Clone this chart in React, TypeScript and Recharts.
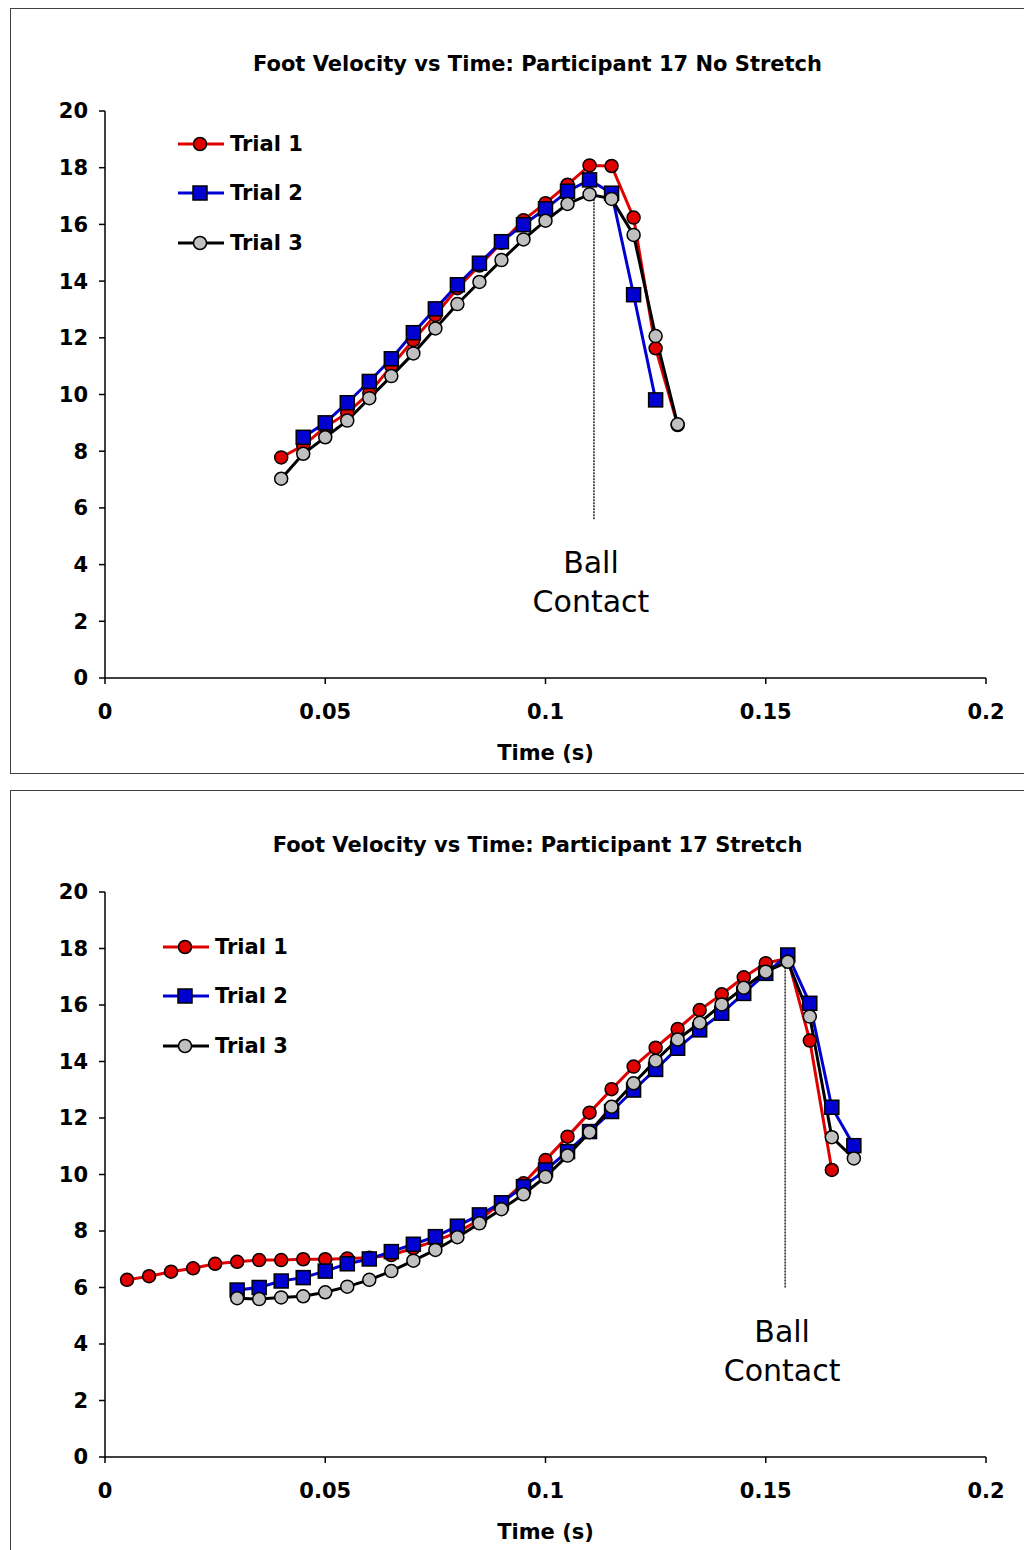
import React from "react";
import { LineChart, Line, XAxis, YAxis, ReferenceLine, Legend } from "recharts";

const FONT = "'DejaVu Sans', Verdana, sans-serif";

const xTicks = [0, 0.05, 0.1, 0.15, 0.2];
const yTicks = [0, 2, 4, 6, 8, 10, 12, 14, 16, 18, 20];
const trialNames = ["Trial 1", "Trial 2", "Trial 3"];

// No stretch
const noStretchTime1 = [0.04, 0.045, 0.05, 0.055, 0.06, 0.065, 0.07, 0.075, 0.08, 0.085, 0.09, 0.095, 0.1, 0.105, 0.11, 0.115, 0.12, 0.125, 0.13];
const noStretchTrial1 = [7.78, 8.2, 8.85, 9.35, 10.05, 11.0, 11.92, 12.8, 13.75, 14.55, 15.35, 16.15, 16.75, 17.4, 18.08, 18.06, 16.24, 11.63, 8.92];
const noStretchTime2 = [0.045, 0.05, 0.055, 0.06, 0.065, 0.07, 0.075, 0.08, 0.085, 0.09, 0.095, 0.1, 0.105, 0.11, 0.115, 0.12, 0.125];
const noStretchTrial2 = [8.49, 9.0, 9.71, 10.46, 11.26, 12.18, 13.02, 13.87, 14.63, 15.39, 15.99, 16.55, 17.17, 17.57, 17.1, 13.52, 9.81];
const noStretchTime3 = [0.04, 0.045, 0.05, 0.055, 0.06, 0.065, 0.07, 0.075, 0.08, 0.085, 0.09, 0.095, 0.1, 0.105, 0.11, 0.115, 0.12, 0.125, 0.13];
const noStretchTrial3 = [7.03, 7.91, 8.49, 9.08, 9.87, 10.65, 11.45, 12.33, 13.19, 13.97, 14.74, 15.47, 16.13, 16.72, 17.06, 16.9, 15.63, 12.06, 8.95];
const noStretchContact = { t: 0.111, from: 5.6, to: 17.1 };

// Stretch
const stretchTime1 = [0.005, 0.01, 0.015, 0.02, 0.025, 0.03, 0.035, 0.04, 0.045, 0.05, 0.055, 0.06, 0.065, 0.07, 0.075, 0.08, 0.085, 0.09, 0.095, 0.1, 0.105, 0.11, 0.115, 0.12, 0.125, 0.13, 0.135, 0.14, 0.145, 0.15, 0.155, 0.16, 0.165];
const stretchTrial1 = [6.27, 6.4, 6.56, 6.68, 6.84, 6.91, 6.97, 6.97, 7.0, 7.0, 7.03, 7.05, 7.15, 7.39, 7.65, 7.95, 8.4, 9.0, 9.69, 10.51, 11.34, 12.19, 13.02, 13.82, 14.49, 15.15, 15.82, 16.38, 16.98, 17.48, 17.65, 14.74, 10.16];
const stretchTime2 = [0.03, 0.035, 0.04, 0.045, 0.05, 0.055, 0.06, 0.065, 0.07, 0.075, 0.08, 0.085, 0.09, 0.095, 0.1, 0.105, 0.11, 0.115, 0.12, 0.125, 0.13, 0.135, 0.14, 0.145, 0.15, 0.155, 0.16, 0.165, 0.17];
const stretchTrial2 = [5.91, 6.0, 6.23, 6.35, 6.58, 6.84, 7.01, 7.27, 7.53, 7.8, 8.17, 8.57, 9.0, 9.57, 10.16, 10.81, 11.52, 12.23, 12.99, 13.72, 14.47, 15.12, 15.71, 16.41, 17.12, 17.77, 16.06, 12.38, 11.02];
const stretchTime3 = [0.03, 0.035, 0.04, 0.045, 0.05, 0.055, 0.06, 0.065, 0.07, 0.075, 0.08, 0.085, 0.09, 0.095, 0.1, 0.105, 0.11, 0.115, 0.12, 0.125, 0.13, 0.135, 0.14, 0.145, 0.15, 0.155, 0.16, 0.165, 0.17];
const stretchTrial3 = [5.62, 5.59, 5.65, 5.69, 5.83, 6.03, 6.27, 6.58, 6.95, 7.33, 7.78, 8.27, 8.77, 9.3, 9.92, 10.67, 11.5, 12.4, 13.23, 14.03, 14.78, 15.37, 16.02, 16.61, 17.18, 17.53, 15.59, 11.32, 10.57];
const stretchContact = { t: 0.1544, from: 6.0, to: 17.5 };

const pair = (ts: number[], vs: number[]) => ts.map((t, i) => ({ t, v: vs[i] }));

const STYLES = [
  { stroke: "#e00000", fill: "#e00000", shape: "circle" },
  { stroke: "#0000d0", fill: "#0000d0", shape: "square" },
  { stroke: "#000000", fill: "#c0c0c0", shape: "circle" },
];

function Marker({ cx, cy, shape, fill }: any) {
  if (cx == null || cy == null) return null;
  if (shape === "square") {
    return <rect x={cx - 7} y={cy - 7} width={14} height={14} fill={fill} stroke="#000" strokeWidth={1.5} />;
  }
  return <circle cx={cx} cy={cy} r={6.5} fill={fill} stroke="#000" strokeWidth={1.5} />;
}

function LegendBox() {
  return (
    <div style={{ fontFamily: FONT, fontWeight: "bold", fontSize: 21 }}>
      {trialNames.map((name, i) => (
        <div key={name} style={{ display: "flex", alignItems: "center", height: 49.5 }}>
          <svg width={52} height={20}>
            <line x1={0} y1={10} x2={46} y2={10} stroke={STYLES[i].stroke} strokeWidth={3} />
            <Marker cx={22} cy={10} shape={STYLES[i].shape} fill={STYLES[i].fill} />
          </svg>
          <span>{name}</span>
        </div>
      ))}
    </div>
  );
}

function ContactLabel({ viewBox }: any) {
  if (!viewBox) return null;
  const cx = viewBox.x + (viewBox.width || 0) / 2 - 3;
  const bottom = viewBox.y + (viewBox.height || 0);
  return (
    <text x={cx} y={bottom + 54} textAnchor="middle" fontSize={30} fontFamily={FONT} fill="#000">
      <tspan x={cx} dy={0}>Ball</tspan>
      <tspan x={cx} dy={39}>Contact</tspan>
    </text>
  );
}

type PanelProps = {
  title: string;
  top: number;
  frameHeight: number;
  plotTop: number;
  plotHeight: number;
  legendLeft: number;
  legendTop: number;
  series: { t: number; v: number }[][];
  contact: { t: number; from: number; to: number };
};

function Panel({ title, top, frameHeight, plotTop, plotHeight, legendLeft, legendTop, series, contact }: PanelProps) {
  const tickStyle = { fill: "#000", fontSize: 21, fontWeight: "bold", fontFamily: FONT };
  return (
    <div style={{ position: "absolute", left: 0, top, width: 1024, height: 780 }}>
      <div
        style={{
          position: "absolute",
          left: 10,
          top: 8,
          width: 1040,
          height: frameHeight,
          border: "1px solid #404040",
          boxSizing: "border-box",
        }}
      />
      <div
        style={{
          position: "absolute",
          left: 0,
          width: 1075,
          top: plotTop - 59,
          lineHeight: "24px",
          textAlign: "center",
          fontFamily: FONT,
          fontWeight: "bold",
          fontSize: 21,
        }}
      >
        {title}
      </div>
      <div style={{ position: "absolute", left: 0, top: 0 }}>
        <LineChart width={1024} height={780} margin={{ top: plotTop, right: 38, bottom: 780 - plotTop - plotHeight - 90, left: 45 }}>
          <XAxis
            type="number"
            dataKey="t"
            domain={[0, 0.2]}
            ticks={xTicks}
            allowDataOverflow
            height={90}
            stroke="#000"
            strokeWidth={1.5}
            tickSize={6}
            tickMargin={20}
            tick={tickStyle}
            tickFormatter={(v: number) => String(v)}
            label={{ value: "Time (s)", position: "insideBottom", offset: 8, fill: "#000", fontSize: 21, fontWeight: "bold", fontFamily: FONT }}
          />
          <XAxis xAxisId="top" orientation="top" type="number" domain={[0, 0.2]} height={0} tick={false} tickLine={false} stroke="#808080" />
          <YAxis
            type="number"
            domain={[0, 20]}
            ticks={yTicks}
            width={60}
            stroke="#000"
            strokeWidth={1.5}
            tickSize={6}
            tickMargin={11}
            tick={tickStyle}
          />
          <YAxis yAxisId="right" orientation="right" type="number" domain={[0, 20]} width={0} tick={false} tickLine={false} stroke="#808080" />
          <ReferenceLine
            segment={[
              { x: contact.t, y: contact.from },
              { x: contact.t, y: contact.to },
            ]}
            stroke="#000"
            strokeWidth={1.3}
            strokeDasharray="2 1"
            label={<ContactLabel />}
          />
          {series.map((data, i) => (
            <Line
              key={trialNames[i]}
              data={data}
              dataKey="v"
              name={trialNames[i]}
              type="linear"
              stroke={STYLES[i].stroke}
              strokeWidth={3}
              isAnimationActive={false}
              dot={(p: any) => <Marker key={`${i}-${p.index}`} cx={p.cx} cy={p.cy} shape={STYLES[i].shape} fill={STYLES[i].fill} />}
              activeDot={false}
            />
          ))}
          <Legend
            layout="vertical"
            align="center"
            verticalAlign="middle"
            content={() => <LegendBox />}
            wrapperStyle={{ position: "absolute", left: legendLeft, top: legendTop, width: 200 }}
          />
        </LineChart>
      </div>
    </div>
  );
}

export default function App() {
  return (
    <div style={{ position: "absolute", left: 0, top: 0, width: 1024, height: 1550, overflow: "hidden", background: "#fff" }}>
      <Panel
        title="Foot Velocity vs Time: Participant 17 No Stretch"
        top={0}
        frameHeight={766}
        plotTop={111}
        plotHeight={567}
        legendLeft={178}
        legendTop={119}
        series={[pair(noStretchTime1, noStretchTrial1), pair(noStretchTime2, noStretchTrial2), pair(noStretchTime3, noStretchTrial3)]}
        contact={noStretchContact}
      />
      <Panel
        title="Foot Velocity vs Time: Participant 17 Stretch"
        top={782}
        frameHeight={800}
        plotTop={110}
        plotHeight={565}
        legendLeft={163}
        legendTop={140}
        series={[pair(stretchTime1, stretchTrial1), pair(stretchTime2, stretchTrial2), pair(stretchTime3, stretchTrial3)]}
        contact={stretchContact}
      />
    </div>
  );
}
